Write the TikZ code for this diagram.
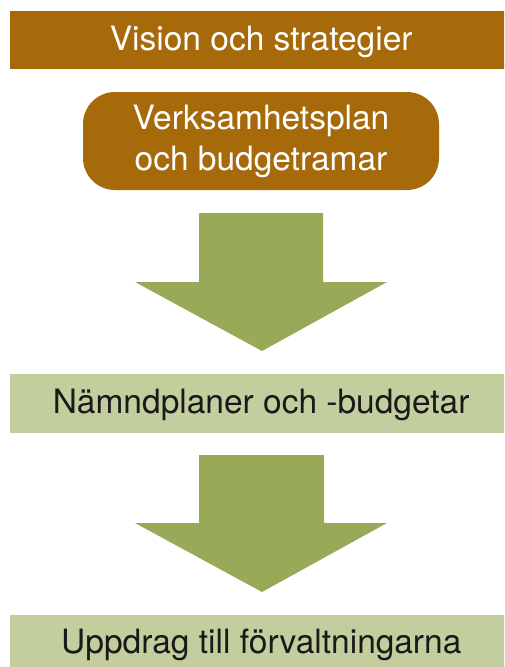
\documentclass[tikz,border=0pt]{standalone}
\usepackage{fontspec}
\setmainfont{TeX Gyre Heros}
\definecolor{brownbar}{HTML}{A66A0B}
\definecolor{arrowgreen}{HTML}{98AA58}
\definecolor{palegreen}{HTML}{C3CE9E}
\begin{document}
\begin{tikzpicture}[x=1pt,y=-1pt,
  band/.style={inner sep=0pt,anchor=north west,minimum width=502,
    text height=20pt,text depth=0pt,font=\fontsize{33.5}{40}\selectfont},
  brownband/.style={band,fill=brownbar,text=white},
  greenband/.style={band,fill=palegreen,text=black!90},
  bigarrow/.style={fill=arrowgreen}]
\clip (0,0) rectangle (504,667);
\useasboundingbox (0,0) rectangle (504,667);

\node[brownband,minimum height=58] (vision) at (10,11) {Vision och strategier};
\node[fill=brownbar,text=white,rounded corners=32pt,minimum width=356,minimum height=98,
  inner sep=0pt,align=center,font=\fontsize{33.5}{41}\selectfont] (plan) at (261,141)
  {Verksamhetsplan\\och budgetramar};

\node[greenband,minimum height=59] (namnd) at (10,374) {Nämndplaner och -budgetar};
\node[greenband,minimum height=60,text height=16pt] (uppdrag) at (10,615)
  {Uppdrag till förvaltningarna};

% block arrows between the levels
\fill[bigarrow] (199,213) -- (323,213) -- (323,282) -- (387,282) -- (262,351)
  -- (135,282) -- (199,282) -- cycle;
\fill[bigarrow] (199,455) -- (324,455) -- (324,523) -- (387,523) -- (262,592)
  -- (135,523) -- (199,523) -- cycle;
\end{tikzpicture}
\end{document}
